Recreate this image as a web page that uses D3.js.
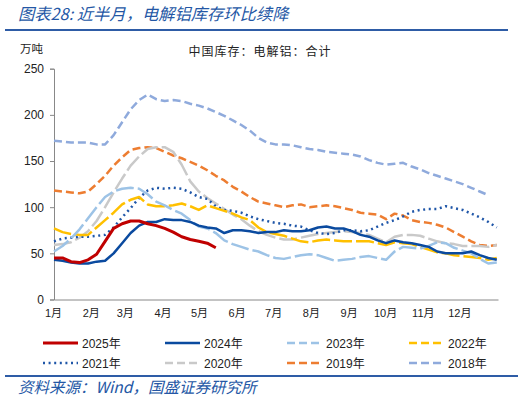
<!DOCTYPE html>
<html><head><meta charset="utf-8">
<script src="https://cdn.jsdelivr.net/npm/d3@7"></script>
<style>body{margin:0;background:#fff}svg{display:block}</style>
</head><body>
<script>
// Weekly samples (week index from Jan 1, 7 days apart), unit: 万吨
const months = ["1月","2月","3月","4月","5月","6月","7月","8月","9月","10月","11月","12月"];
const monthStartDays = [0,31,59,90,120,151,181,212,243,273,304,334];
const yTicks = [0,50,100,150,200,250];
const years = ["2025年","2024年","2023年","2022年","2021年","2020年","2019年","2018年"];
const s2025 = [45,45,41,40,43,49,63,77,82,85,85,82,80,77,73,68,65,63,61,56];
const s2024 = [43,42,40,39,39,41,42,50,61,72,80,84,84,87,86,86,84,80,78,77,72,75,75,74,72,73,73,75,74,74,75,78,79,77,77,74,70,68,64,61,64,62,61,59,57,52,50,50,50,52,48,45,43];
const s2023 = [52,58,66,76,88,100,111,117,120,121,120,114,106,102,97,93,86,79,77,72,64,60,57,54,52,48,45,44,46,48,49,48,45,42,43,44,46,47,45,43,52,57,56,55,58,62,61,56,53,50,44,39,40];
const s2022 = [77,73,71,70,70,78,86,94,103,108,111,103,101,101,102,104,101,97,102,99,96,93,89,86,78,73,71,69,66,63,62,64,65,64,63,63,63,63,61,59,62,61,60,57,54,51,50,48,47,46,45,43,45];
const s2021 = [63,66,67,68,68,69,70,78,89,99,110,118,121,120,121,120,116,111,109,101,97,96,94,90,87,85,83,82,80,79,75,72,71,72,75,75,74,75,79,83,86,90,95,97,98,98,101,99,97,93,89,84,78];
const s2020 = [59,60,62,67,74,85,100,116,131,145,155,163,165,165,160,146,128,117,110,104,98,92,87,80,74,70,67,65,65,67,69,71,72,73,74,73,72,70,66,62,68,70,70,69,66,63,61,60,58,58,58,57,59];
const s2019 = [118,117,116,115,117,125,134,145,154,162,164,165,164,160,156,153,149,145,140,134,129,122,117,111,106,104,102,100,102,103,100,101,102,101,99,97,94,93,92,87,93,91,86,84,83,81,78,73,68,63,59,58,59];
const s2018 = [172,171,170,170,170,168,168,178,192,206,216,222,217,215,216,215,212,210,207,203,199,194,189,183,175,170,168,168,167,165,163,162,160,159,158,157,155,151,148,146,147,148,144,141,137,134,131,128,125,121,117,113];

const seriesValues = [s2025,s2024,s2023,s2022,s2021,s2020,s2019,s2018];
const styles = [
  {c:"#C00000", w:3,   plotDash:null,     legDash:null},
  {c:"#0A4A9F", w:2.5, plotDash:null,     legDash:null},
  {c:"#9DC3E6", w:2.5, plotDash:"18,4",   legDash:"8,4"},
  {c:"#FFC000", w:2.5, plotDash:"18,4",   legDash:"8,4"},
  {c:"#1F56A8", w:2.5, plotDash:"2,3.6",  legDash:"2,3.6"},
  {c:"#C9C9C9", w:2.5, plotDash:"18,4",   legDash:"8,4"},
  {c:"#ED7D31", w:2.5, plotDash:"8,4",    legDash:"8,4"},
  {c:"#8FAADC", w:2.5, plotDash:"8,4",    legDash:"8,4"}
];

const W=525,H=400;
const svg=d3.select("body").append("svg").attr("width",W).attr("height",H);
svg.append("rect").attr("width",W).attr("height",H).attr("fill","#fff");
const FONT='"Liberation Sans","Noto Sans CJK SC",sans-serif';
const CJK='"Noto Sans CJK SC","Liberation Sans",sans-serif';
const BLUE="#2457A5";

// title
svg.append("text").attr("x",18).attr("y",20).attr("font-family",CJK).attr("font-style","italic")
  .attr("font-size",16.3).attr("fill",BLUE).text("图表28: 近半月，电解铝库存环比续降");
svg.append("line").attr("x1",5).attr("x2",508).attr("y1",30).attr("y2",30).attr("stroke","#2E5CA6").attr("stroke-width",2);
svg.append("line").attr("x1",5).attr("x2",518).attr("y1",376).attr("y2",376).attr("stroke","#2E5CA6").attr("stroke-width",2);
svg.append("text").attr("x",18).attr("y",393).attr("font-family",CJK).attr("font-style","italic")
  .attr("font-size",15.5).attr("fill",BLUE).text("资料来源：Wind，国盛证券研究所");

svg.append("text").attr("x",20).attr("y",53).attr("font-family",CJK).attr("font-size",11.5).attr("fill","#222").text("万吨");
svg.append("text").attr("x",260).attr("y",56).attr("text-anchor","middle").attr("font-family",CJK)
  .attr("font-size",12).attr("letter-spacing",1).attr("fill","#222").text("中国库存：电解铝：合计");

const x=d3.scaleLinear().domain([0,365]).range([54,498]);
const y=d3.scaleLinear().domain([0,250]).range([299.5,68.7]);

// y axis
const yAxis=svg.append("g").attr("transform","translate(54,0)")
  .call(d3.axisLeft(y).tickValues(yTicks).tickSize(4).tickPadding(6));
yAxis.select(".domain").attr("stroke","#888");
yAxis.selectAll(".tick line").attr("stroke","#888");
yAxis.selectAll("text").attr("font-family",FONT).attr("font-size",12).attr("fill","#222");

// x axis
const xAxis=svg.append("g").attr("transform","translate(0,299.5)")
  .call(d3.axisBottom(x).tickValues(monthStartDays).tickFormat((d,i)=>months[i]).tickSize(0).tickPadding(10));
xAxis.select(".domain").attr("stroke","#888");
xAxis.selectAll("text").attr("font-family",FONT).attr("font-size",11).attr("fill","#222").attr("dx",-1);

// lines (draw older first so recent on top)
const line=d3.line().x((d,i)=>x(i*7)).y(d=>y(d));
const order=[7,6,5,4,3,2,1,0];
order.forEach(k=>{
  const s=styles[k];
  svg.append("path").datum(seriesValues[k]).attr("d",line).attr("fill","none")
    .attr("stroke",s.c).attr("stroke-width",s.w).attr("stroke-linejoin","round")
    .attr("stroke-dasharray",s.plotDash);
});

// legend
const colX=[43,165,287,409], rowY=[343,363];
years.forEach((name,k)=>{
  const s=styles[k]; const cx=colX[k%4], cy=rowY[Math.floor(k/4)];
  svg.append("line").attr("x1",cx).attr("x2",cx+35).attr("y1",cy).attr("y2",cy)
    .attr("stroke",s.c).attr("stroke-width",s.w).attr("stroke-dasharray",s.legDash);
  svg.append("text").attr("x",cx+39).attr("y",cy+4.5).attr("font-family",FONT).attr("font-size",12)
    .attr("fill","#222").text(name);
});
</script>
</body></html>
